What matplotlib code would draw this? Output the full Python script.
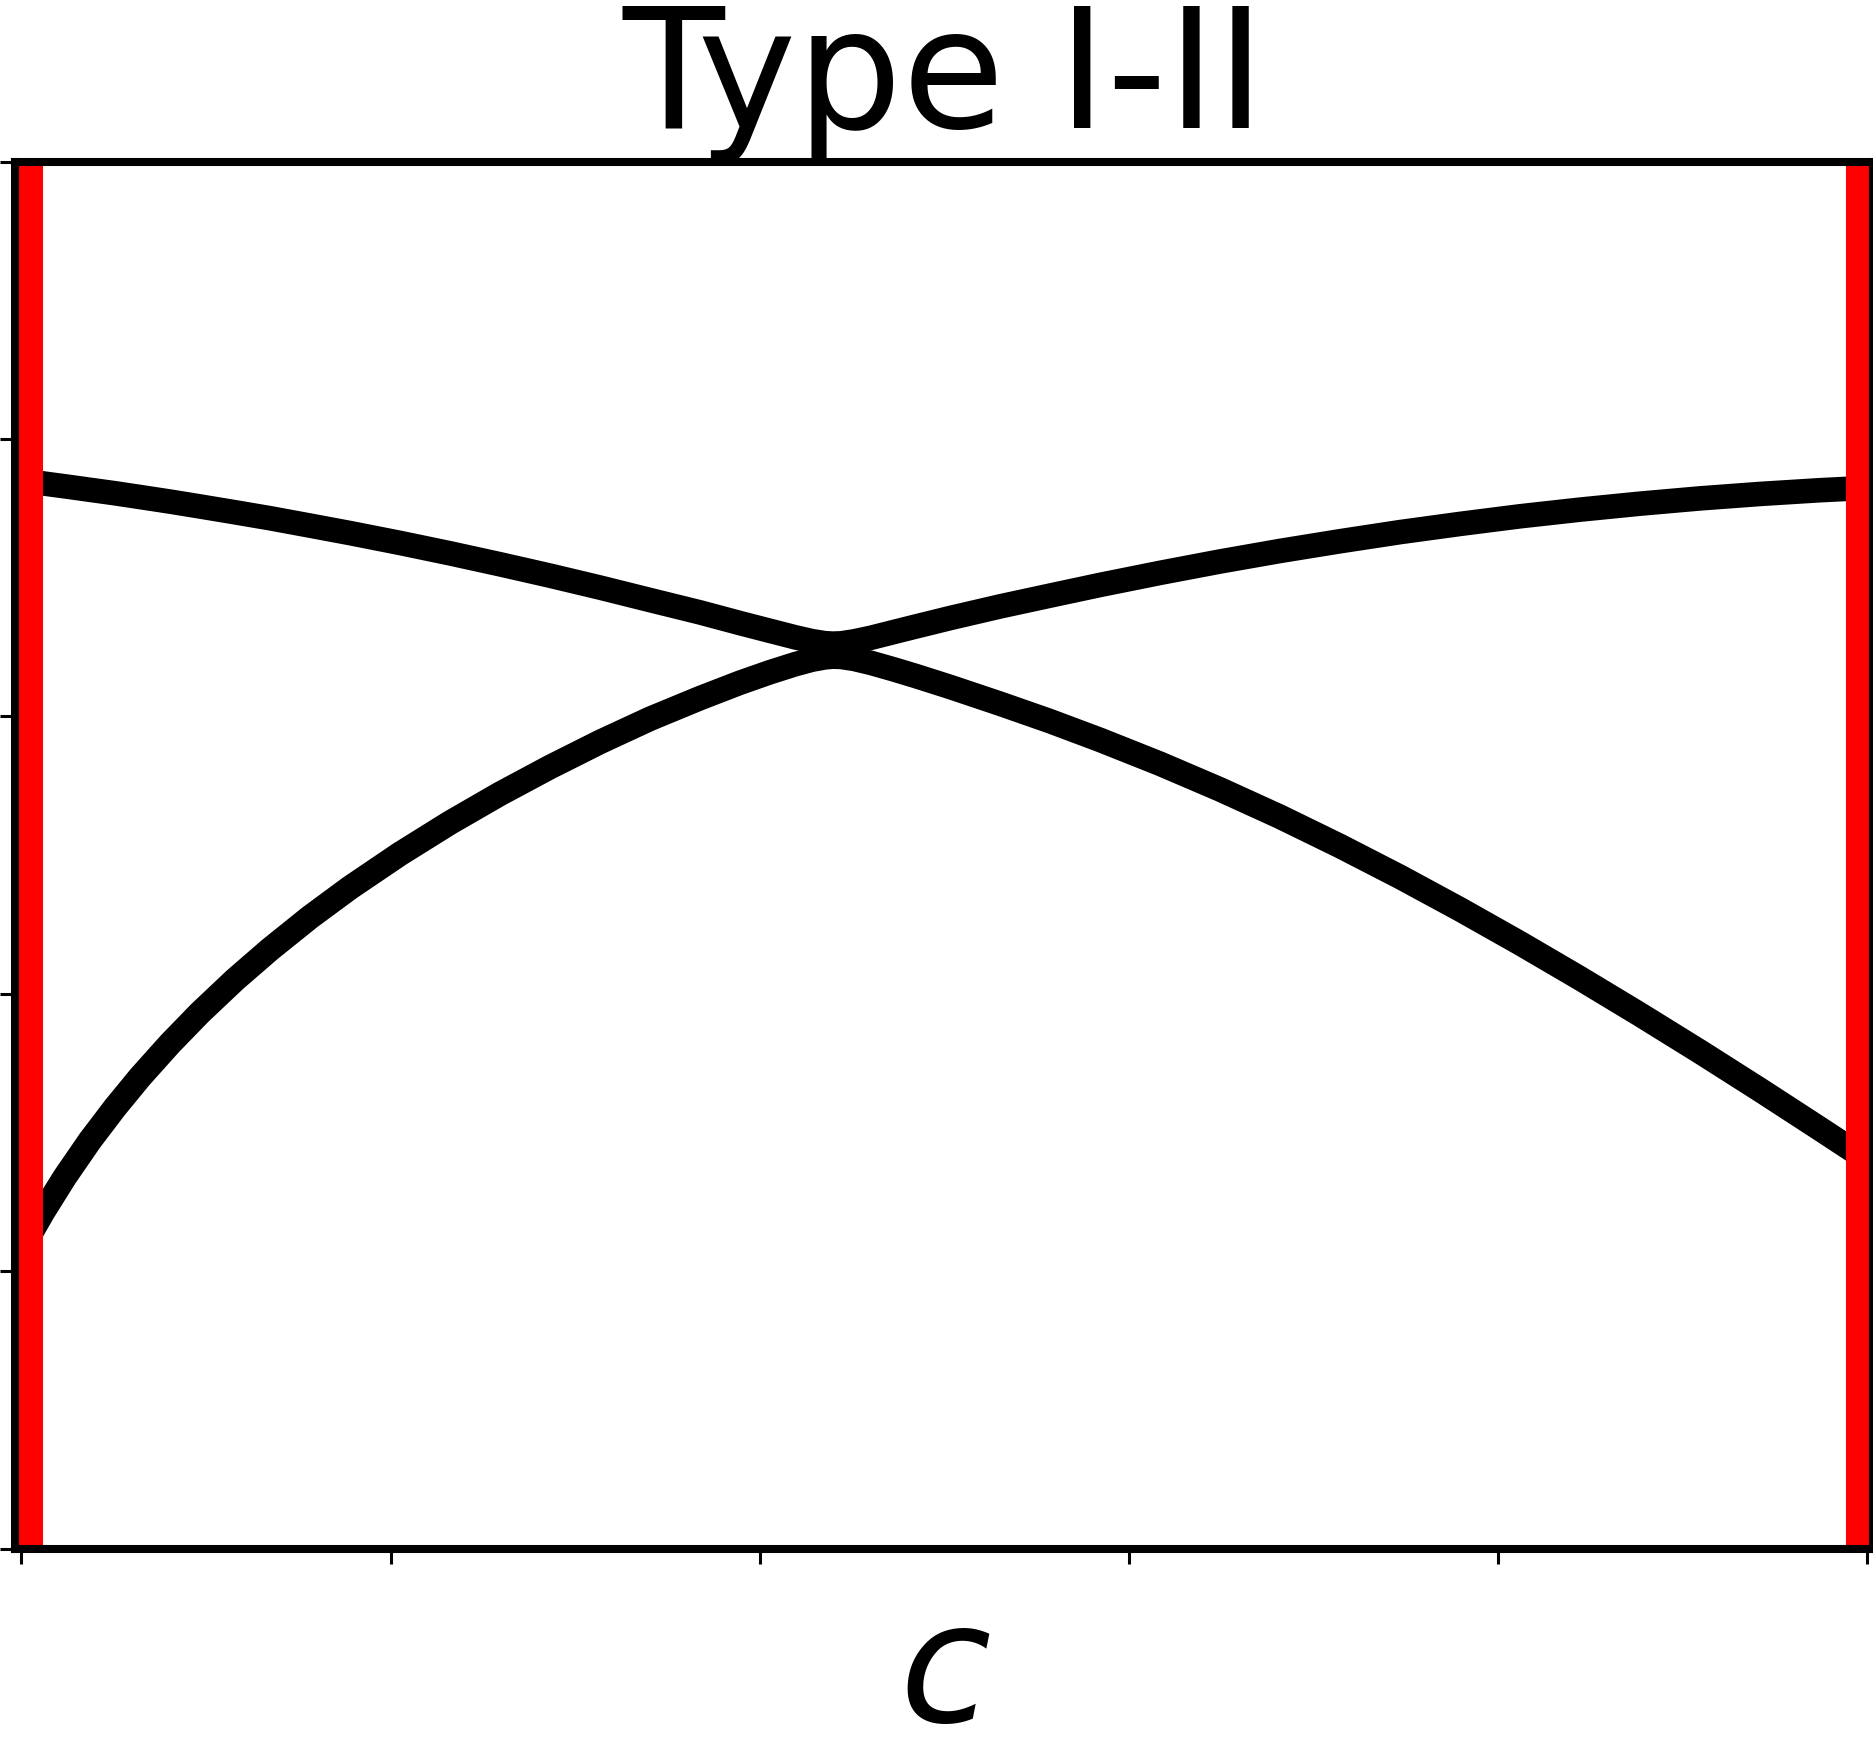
import matplotlib
matplotlib.use("Agg")
import matplotlib.pyplot as plt

# sample positions along c (same for both bands)
c_values = [0.0, 0.0117, 0.0236, 0.0371, 0.0507, 0.0642, 0.0805, 0.0967, 0.1157, 0.1347,
            0.1563, 0.1780, 0.2051, 0.2322, 0.2593, 0.2864, 0.3135, 0.3406, 0.3677, 0.3893,
            0.4056, 0.4191, 0.4283, 0.4354, 0.4397, 0.4441, 0.4511, 0.4603, 0.4722, 0.4842,
            0.5031, 0.5302, 0.5573, 0.5844, 0.6169, 0.6494, 0.6819, 0.7144, 0.7470, 0.7795,
            0.8120, 0.8445, 0.8770, 0.9095, 0.9420, 0.9745, 1.0]

# upper and lower band (normalised energy)
upper_band = [0.7700, 0.7680, 0.7659, 0.7634, 0.7609, 0.7582, 0.7549, 0.7514, 0.7472, 0.7429,
              0.7376, 0.7322, 0.7251, 0.7176, 0.7097, 0.7015, 0.6929, 0.6839, 0.6750, 0.6673,
              0.6617, 0.6571, 0.6543, 0.6528, 0.6525, 0.6527, 0.6541, 0.6567, 0.6607, 0.6647,
              0.6709, 0.6793, 0.6871, 0.6948, 0.7035, 0.7117, 0.7193, 0.7263, 0.7329, 0.7388,
              0.7443, 0.7491, 0.7534, 0.7572, 0.7604, 0.7631, 0.7648]
lower_band = [0.2157, 0.2428, 0.2681, 0.2942, 0.3180, 0.3399, 0.3641, 0.3863, 0.4102, 0.4321,
              0.4552, 0.4765, 0.5009, 0.5234, 0.5442, 0.5635, 0.5816, 0.5983, 0.6132, 0.6243,
              0.6319, 0.6376, 0.6409, 0.6426, 0.6431, 0.6429, 0.6415, 0.6386, 0.6341, 0.6293,
              0.6213, 0.6092, 0.5966, 0.5831, 0.5659, 0.5474, 0.5277, 0.5066, 0.4843, 0.4609,
              0.4365, 0.4112, 0.3851, 0.3583, 0.3308, 0.3027, 0.2804]

# ends of the c range, marked in red
boundaries = [0.0, 1.0]

x_ticks = [0.0, 0.2, 0.4, 0.6, 0.8, 1.0]
y_ticks = [0.0, 0.2, 0.4, 0.6, 0.8, 1.0]

title = "Type I-II"
xlabel = "$c$"


def main() -> None:
    fig = plt.figure(figsize=(18.74, 17.57), dpi=100)
    ax = fig.add_axes([0.008, 0.1186, 0.9917, 0.7894])

    for band in (upper_band, lower_band):
        ax.plot(c_values, band, color="black", lw=17.7,
                solid_joinstyle="round", solid_capstyle="butt", zorder=2)

    # red markers sit on top of the bands, under the spines
    for b in boundaries:
        ax.axvline(b, color="red", lw=31, zorder=2.2)

    ax.set_xlim(-0.0035, 1.0035)
    ax.set_ylim(0, 1)
    ax.set_xticks(x_ticks)
    ax.set_yticks(y_ticks)
    ax.tick_params(direction="out", length=11, width=2.2,
                   labelbottom=False, labelleft=False)

    for spine in ax.spines.values():
        spine.set_linewidth(5.8)

    ax.set_title(title, fontsize=120, pad=24)
    ax.set_xlabel(xlabel, fontsize=120)
    ax.xaxis.set_label_coords(0.5, -0.033)

    fig.savefig("out.png", dpi=100)
    plt.close(fig)


if __name__ == "__main__":
    main()
